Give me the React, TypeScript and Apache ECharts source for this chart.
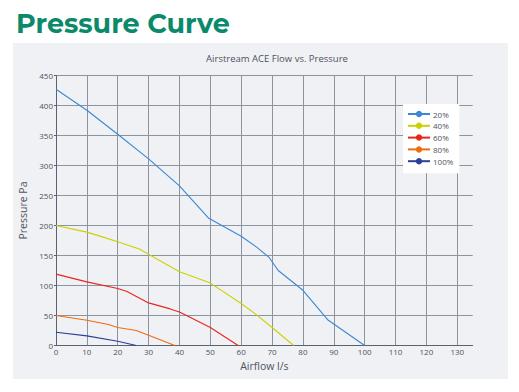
import React, { useEffect, useRef } from "react";
import * as echarts from "echarts";

const seriesNames = ["20%", "40%", "60%", "80%", "100%"];
const seriesColors = ["#3a88d2", "#cdd000", "#e8261b", "#f06b12", "#2b3f9a"];

const flow20 = [[0, 427], [10, 392], [20, 352], [30, 311], [40, 266], [49.5, 212], [60, 182], [65, 164], [69, 147], [72, 125], [80, 92], [88, 43], [100, 0]];
const flow40 = [[0, 200], [10, 189], [15, 181], [20, 173], [27, 161], [30, 152], [40, 123], [50, 104], [60, 70], [65, 51], [70, 30], [77, 0]];
const flow60 = [[0, 119], [10, 106], [20, 95], [23, 90], [30, 71], [37, 61], [40, 56], [50, 30], [59, 0]];
const flow80 = [[0, 50], [10, 42], [17, 35], [20, 30], [26, 25], [30, 17], [38.5, 0]];
const flow100 = [[0, 22], [10, 16], [20, 7], [26, 0]];

const seriesData = [flow20, flow40, flow60, flow80, flow100];

const FONT = "'Open Sans', sans-serif";

export default function App() {
  const ref = useRef<HTMLDivElement>(null);
  useEffect(() => {
    if (!ref.current) return;
    const chart = echarts.init(ref.current, undefined, { renderer: "svg" });
    chart.setOption({
      animation: false,
      textStyle: { fontFamily: FONT },
      graphic: [
        {
          type: "rect",
          z: -10,
          silent: true,
          shape: { x: 13, y: 43, width: 495, height: 336 },
          style: { fill: "#f0f1f5" },
        },
      ],
      title: [
        {
          text: "Pressure Curve",
          left: 11,
          top: 5,
          textStyle: { fontFamily: "Montserrat, 'Open Sans', sans-serif", fontSize: 27, fontWeight: 700, color: "#0a8a6b" },
        },
        {
          text: "Airstream ACE Flow vs. Pressure",
          left: 272,
          textAlign: "center",
          top: 48,
          textStyle: { fontFamily: FONT, fontSize: 9.5, fontWeight: 400, color: "#4d5360" },
        },
      ],
      legend: {
        orient: "vertical",
        left: 403,
        top: 104,
        padding: [6, 6, 8, 4],
        backgroundColor: "#ffffff",
        itemWidth: 22,
        itemHeight: 8,
        itemGap: 3.8,
        textStyle: { fontSize: 8, color: "#4d5360", fontFamily: FONT, padding: [0, 0, 0, -2] },
        data: seriesNames,
        lineStyle: { width: 2 },
      },
      grid: { left: 56, top: 75.5, right: 46.3, bottom: 46.5 },
      xAxis: {
        type: "value",
        min: 0,
        max: 135,
        interval: 10,
        name: "Airflow l/s",
        nameLocation: "middle",
        nameGap: 15,
        nameTextStyle: { fontSize: 10.5, color: "#4d5360", fontFamily: FONT },
        axisLine: { show: true, lineStyle: { color: "#5a6270", width: 1 } },
        axisTick: { show: false },
        axisLabel: { fontSize: 8, color: "#4d5360", margin: 2, showMaxLabel: false, fontFamily: FONT },
        splitLine: { show: true, showMaxLine: false, lineStyle: { color: "#8c94a1", width: 1 } },
      },
      yAxis: {
        type: "value",
        min: 0,
        max: 450,
        interval: 50,
        name: "Pressure Pa",
        nameLocation: "middle",
        nameGap: 26,
        nameTextStyle: { fontSize: 10.5, color: "#4d5360", fontFamily: FONT },
        axisLine: { show: true, lineStyle: { color: "#5a6270", width: 1 } },
        axisTick: { show: true, length: 2, lineStyle: { color: "#5a6270" } },
        axisLabel: { fontSize: 8, color: "#4d5360", margin: 3, fontFamily: FONT },
        splitLine: { show: true, lineStyle: { color: "#8c94a1", width: 1 } },
      },
      series: seriesNames.map((name, i) => ({
        name,
        type: "line",
        data: seriesData[i],
        symbol: "circle",
        symbolSize: 8,
        showSymbol: false,
        color: seriesColors[i],
        lineStyle: { width: 1.1, color: seriesColors[i] },
        itemStyle: { color: seriesColors[i] },
      })),
    });
    return () => chart.dispose();
  }, []);
  return (
    <div
      ref={ref}
      style={{ position: "fixed", left: 0, top: 0, width: 519, height: 392, background: "#ffffff" }}
    />
  );
}
